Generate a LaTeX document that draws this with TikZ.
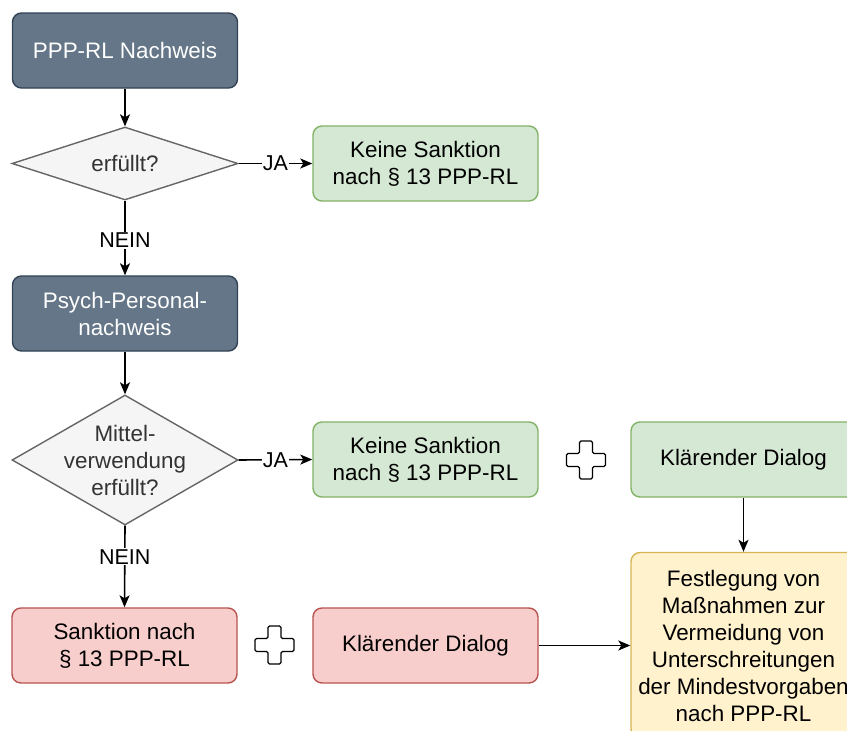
\documentclass[tikz,border=0pt]{standalone}
\usepackage{fontspec}
\setmainfont{Liberation Sans}
\usetikzlibrary{shapes.geometric,arrows.meta}
\definecolor{darkfill}{HTML}{647687}
\definecolor{darkline}{HTML}{314354}
\definecolor{grayfill}{HTML}{F5F5F5}
\definecolor{grayline}{HTML}{666666}
\definecolor{graytext}{HTML}{333333}
\definecolor{greenfill}{HTML}{D5E8D4}
\definecolor{greenline}{HTML}{82B366}
\definecolor{redfill}{HTML}{F8CECC}
\definecolor{redline}{HTML}{B85450}
\definecolor{yellowfill}{HTML}{FFF2CC}
\definecolor{yellowline}{HTML}{D6B656}
\tikzset{
  base/.style={rectangle, rounded corners=9pt, line width=1.4pt, minimum width=225pt, minimum height=75pt, inner sep=2pt, align=center, font=\fontsize{22.4}{27}\selectfont},
  darkbox/.style={base, fill=darkfill, draw=darkline, text=white},
  greenbox/.style={base, fill=greenfill, draw=greenline, text=black},
  redbox/.style={base, fill=redfill, draw=redline, text=black},
  yellowbox/.style={base, fill=yellowfill, draw=yellowline, text=black, minimum height=186pt},
  decision/.style={diamond, aspect=1, inner sep=0pt, fill=grayfill, draw=grayline, line width=1.4pt},
  dtext/.style={font=\fontsize{22.4}{27}\selectfont, align=center, text=graytext},
  conn/.style={line width=1.6pt, -{Stealth[length=12pt,width=10pt,inset=3pt]}},
  lbl/.style={fill=white, inner sep=1pt, font=\fontsize{21.5}{25}\selectfont, text=black},
  plussign/.style={draw=black, fill=white, line width=1.4pt, rounded corners=1.5pt}
}
\begin{document}
\begin{tikzpicture}[x=1pt,y=-1pt]
\useasboundingbox (0,0) rectangle (847,731);
\clip (0,0) rectangle (847,731);
\fill[white] (0,0) rectangle (847,731);

\node[darkbox] (n1) at (125,50.5) {PPP-RL Nachweis};
\node[decision, minimum width=226pt, minimum height=73pt,
      label={[dtext]center:erfüllt?}] (d1) at (125,163.5) {};
\node[greenbox] (g1) at (425.5,163.5) {Keine Sanktion\\nach § 13 PPP-RL};
\node[darkbox] (n2) at (125,313.5) {Psych-Personal-\\nachweis};
\node[decision, minimum width=226pt, minimum height=130pt,
      label={[dtext]center:Mittel-\\verwendung\\erfüllt?}] (d2) at (125,460) {};
\node[greenbox] (g2) at (425.5,459.5) {Keine Sanktion\\nach § 13 PPP-RL};
\node[greenbox] (g3) at (743.5,459.5) {Klärender Dialog};
\node[redbox] (r1) at (124.5,645.5) {Sanktion nach\\§ 13 PPP-RL};
\node[redbox] (r2) at (425.5,645.5) {Klärender Dialog};
\node[yellowbox] (y1) at (743.5,645.5) {Festlegung von\\Maßnahmen zur\\Vermeidung von\\Unterschreitungen\\der Mindestvorgaben\\nach PPP-RL};

\coordinate (p1) at (586,460);
\coordinate (p2) at (274.5,645);
\foreach \c in {p1,p2}{
  \draw[plussign, shift={(\c)}] (-19.5,-6.5) -- (-6.5,-6.5) -- (-6.5,-19) -- (6.5,-19) -- (6.5,-6.5) -- (19.5,-6.5) -- (19.5,6.5) -- (6.5,6.5) -- (6.5,19) -- (-6.5,19) -- (-6.5,6.5) -- (-19.5,6.5) -- cycle;
}

\draw[conn] (n1.south) -- (d1.north);
\draw[conn] (d1.east) -- node[lbl, pos=0.5] {JA} (g1.west);
\draw[conn] (d1.south) -- node[lbl, pos=0.53] {NEIN} (n2.north);
\draw[conn] (n2.south) -- (d2.north);
\draw[conn] (d2.east) -- node[lbl, pos=0.5] {JA} (g2.west);
\draw[conn] (d2.south) -- node[lbl, pos=0.38] {NEIN} (r1.north);
\draw[conn] (g3.south) -- (y1.north);
\draw[conn] (r2.east) -- (y1.west);
\end{tikzpicture}
\end{document}
